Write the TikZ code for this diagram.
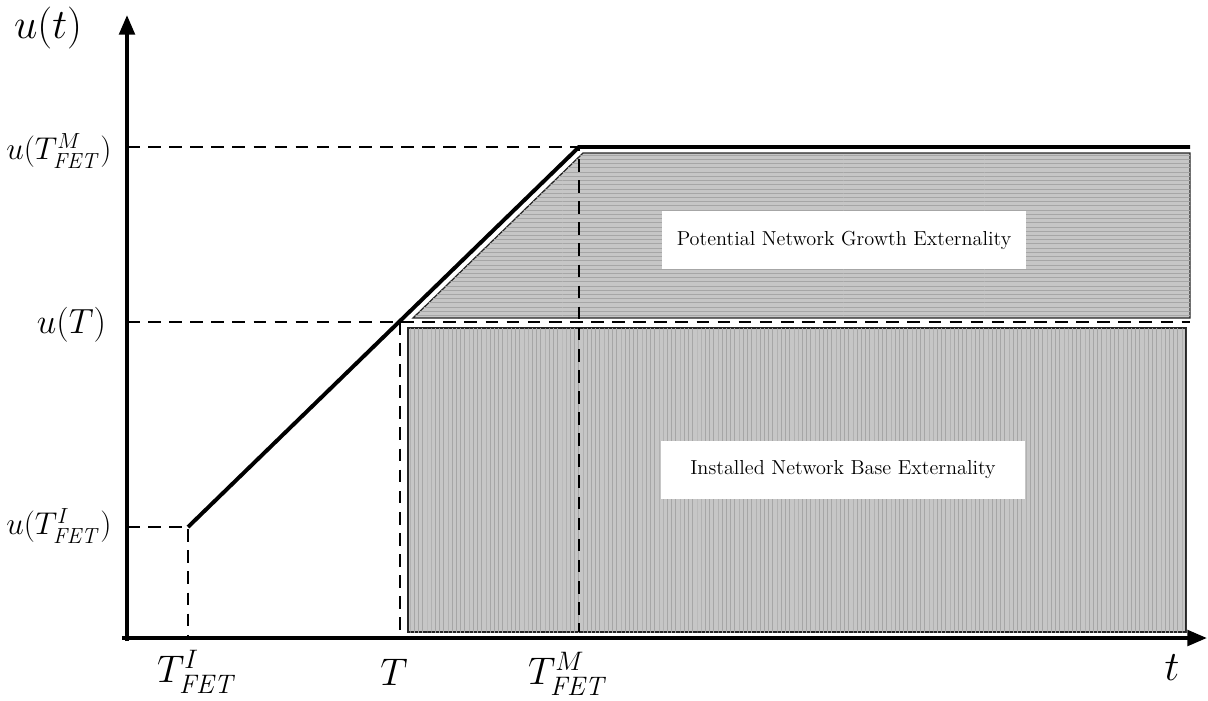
\documentclass[tikz,border=0pt]{standalone}
\usepackage{amsmath}
\usetikzlibrary{arrows.meta, patterns}

\tikzset{
  axis/.style={line width=2.8pt, -{Triangle[length=14pt, width=11pt]}},
  curve/.style={line width=2.8pt},
  guide/.style={line width=1.4pt, dash pattern=on 9pt off 6pt},
  ticklbl/.style={font=\fontsize{25}{30}\selectfont},
  hregion/.style={draw=black!85, line width=0.9pt, fill=gray!45,
    postaction={pattern=horizontal lines, pattern color=gray!70}},
  vregion/.style={draw=black!85, line width=0.9pt, fill=gray!45,
    postaction={pattern=vertical lines, pattern color=gray!70}},
  areabox/.style={fill=white, scale=1.2, minimum width=7.58cm,
    minimum height=1.2cm, font=\large}
}

\begin{document}
\begin{tikzpicture}[x=0.025cm, y=-0.025cm]
\useasboundingbox (0,0) rectangle (1208,700);

% key points
\coordinate (O)   at (127,638);
\coordinate (ytop) at (127,15);
\coordinate (xend) at (1207,638);
\coordinate (pI)  at (188,527);
\coordinate (pT)  at (400,322);
\coordinate (pM)  at (579,147);
\coordinate (pE)  at (1190,147);
\coordinate (yM)  at (127,147);
\coordinate (yT)  at (127,322);
\coordinate (yI)  at (127,527);
\coordinate (xI)  at (188,638);
\coordinate (xT)  at (400,638);
\coordinate (xM)  at (579,632);
\coordinate (eT)  at (1190,322);

% shaded areas
\path[hregion] (413,318) -- (583,153) -- (1190,153) -- (1190,318) -- cycle;
\path[vregion] (408,328) rectangle (1186,632);

% guides
\draw[guide] (yM) -- (pM) -- (xM);
\draw[guide] (yT) -- (eT);
\draw[guide] (pT) -- (xT);
\draw[guide] (yI) -- (pI) -- (xI);

% utility curve
\draw[curve] (pI) -- (pM) -- (pE);

% axes
\draw[axis] (127,641) -- (ytop);
\draw[axis] (122,638) -- (xend);

% labels
\node[ticklbl, scale=1.2] (ut) at (48,28) {$u(t)$};
\node[ticklbl, scale=1.2] (tt) at (1172,668) {$t$};
\node[ticklbl, scale=0.9, anchor=east] (luM) at (116,151) {$u(T^{M}_{\mathit{FET}})$};
\node[ticklbl, anchor=east] (luT) at (111,325) {$u(T)$};
\node[ticklbl, scale=0.9, anchor=east] (luI) at (116,526) {$u(T^{I}_{\mathit{FET}})$};
\node[ticklbl, scale=1.1] (lxI) at (197,672) {$T^{I}_{\mathit{FET}}$};
\node[ticklbl, scale=1.1] (lxT) at (394,672) {$T$};
\node[ticklbl, scale=1.1] (lxM) at (568,674) {$T^{M}_{\mathit{FET}}$};

\node[areabox] (grow) at (844,240) {Potential Network Growth Externality};
\node[areabox] (base) at (843,470) {Installed Network Base Externality};

\end{tikzpicture}
\end{document}
